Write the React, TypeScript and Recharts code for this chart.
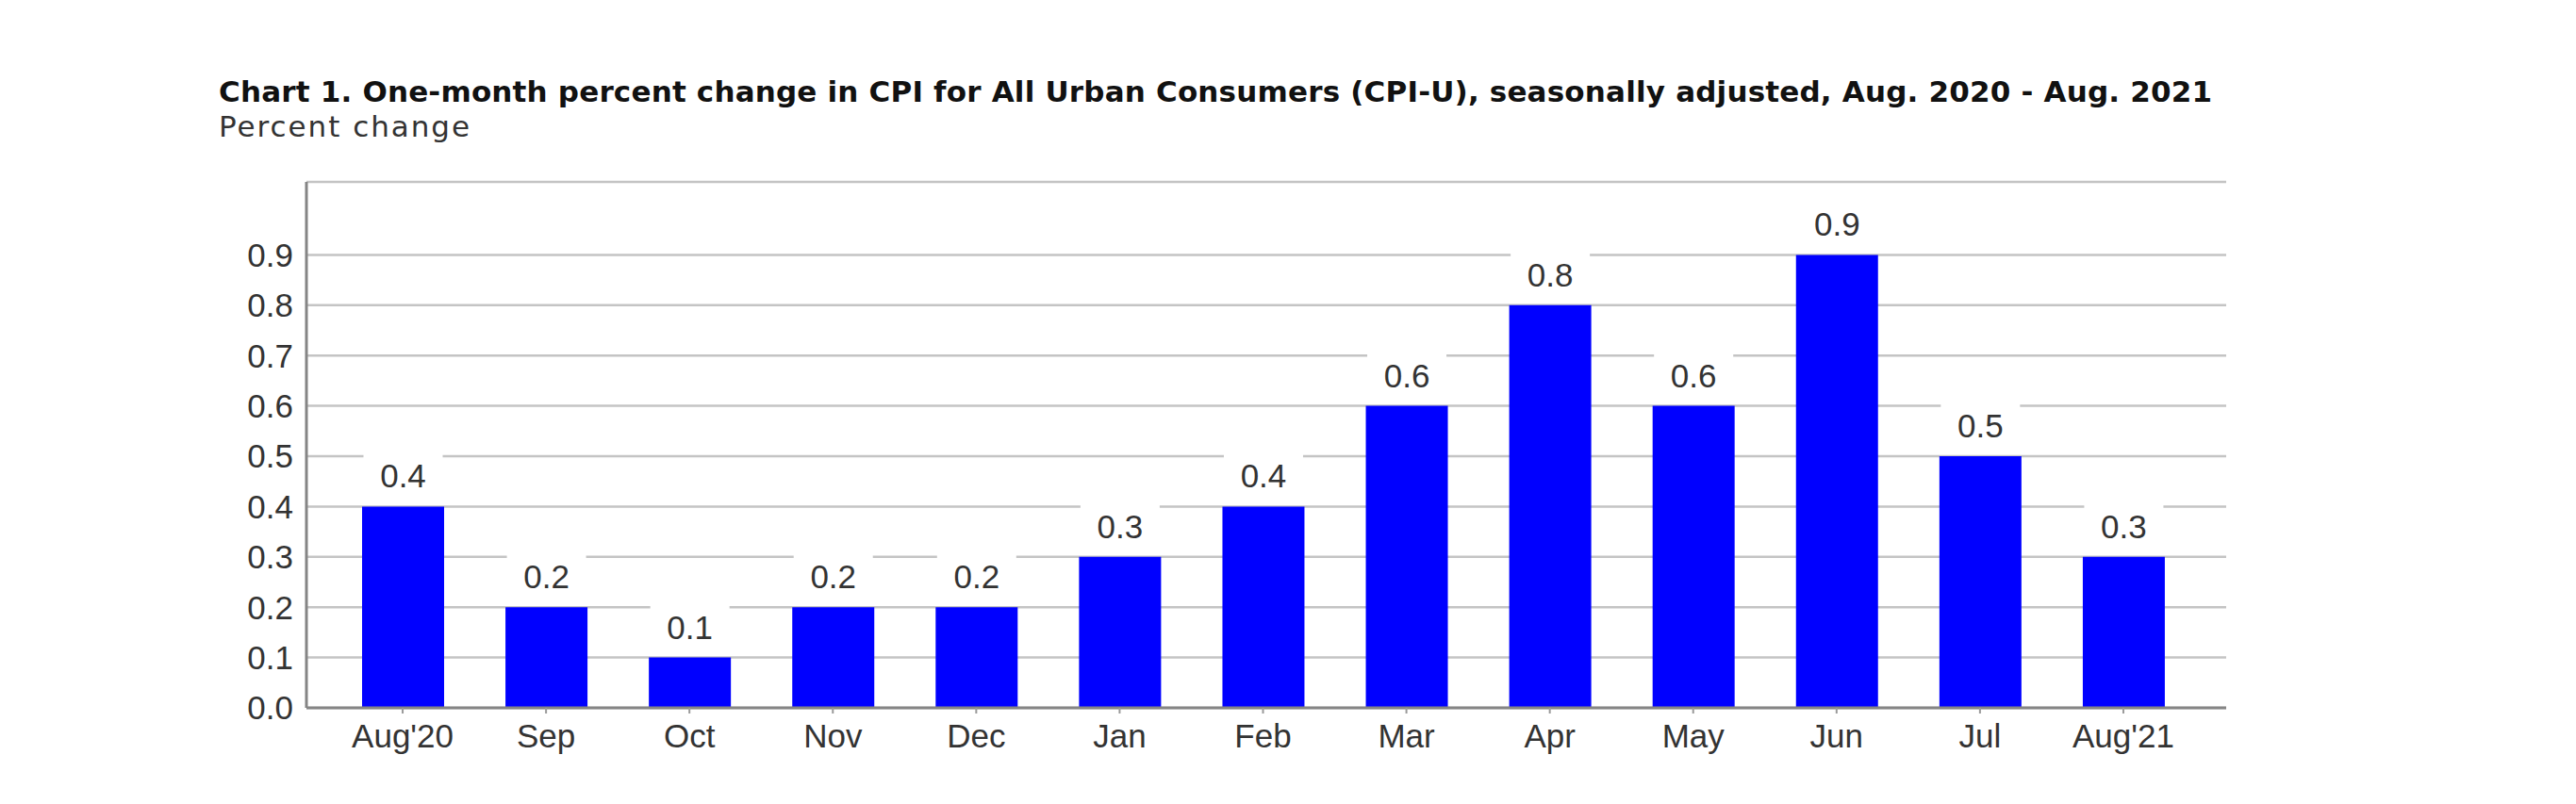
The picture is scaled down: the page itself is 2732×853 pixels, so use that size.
import { BarChart, Bar, XAxis, YAxis, CartesianGrid, LabelList } from 'recharts';

const months = ["Aug'20", 'Sep', 'Oct', 'Nov', 'Dec', 'Jan', 'Feb', 'Mar', 'Apr', 'May', 'Jun', 'Jul', "Aug'21"];
const changes = [0.4, 0.2, 0.1, 0.2, 0.2, 0.3, 0.4, 0.6, 0.8, 0.6, 0.9, 0.5, 0.3];
const yTicks = [0, 0.1, 0.2, 0.3, 0.4, 0.5, 0.6, 0.7, 0.8, 0.9];

const title =
  'Chart 1. One-month percent change in CPI for All Urban Consumers (CPI-U), seasonally adjusted, Aug. 2020 - Aug. 2021';
const subtitle = 'Percent change';

const data = months.map((month, i) => ({ month, value: changes[i] }));

const axisFont = '"Liberation Sans", Arial, sans-serif';
const titleFont = '"DejaVu Sans", sans-serif';
const frame = '#858585';

// value above each bar, on a white box that breaks the gridline behind it
function ValueLabel(props: any) {
  const { x, y, width, value } = props;
  const cx = Number(x) + Number(width) / 2;
  const top = Number(y);
  return (
    <g>
      <rect x={cx - 42} y={top - 58} width={84} height={54} fill="#ffffff" />
      <text
        x={cx}
        y={top - 20}
        textAnchor="middle"
        fontSize={35}
        fontFamily={axisFont}
        fill="#333333"
      >
        {Number(value).toFixed(1)}
      </text>
    </g>
  );
}

export default function App() {
  return (
    <div style={{ position: 'absolute', left: 0, top: 0, width: 2732, height: 853, background: '#fff' }}>
      <style>{`body{margin:0}`}</style>
      <BarChart
        width={2732}
        height={853}
        data={data}
        margin={{ top: 193, right: 371, bottom: 42, left: 0 }}
        barCategoryGap={0}
      >
        <CartesianGrid vertical={false} stroke="#c4c4c4" strokeWidth={2.5} />
        <XAxis
          dataKey="month"
          height={60}
          padding={{ left: 26, right: 33 }}
          axisLine={{ stroke: frame, strokeWidth: 3 }}
          tickLine={{ stroke: '#9a9a9a', strokeWidth: 2 }}
          tickSize={6}
          tickMargin={11}
          interval={0}
          tick={{ fontSize: 35, fontFamily: axisFont, fill: '#333333' }}
        />
        <XAxis
          xAxisId="top"
          dataKey="month"
          orientation="top"
          height={0}
          axisLine={{ stroke: frame, strokeWidth: 3 }}
          tick={false}
          tickLine={false}
        />
        <YAxis
          width={325}
          domain={[0, 1.045]}
          ticks={yTicks}
          interval={0}
          tickFormatter={(v: number) => v.toFixed(1)}
          axisLine={{ stroke: frame, strokeWidth: 3 }}
          tickLine={false}
          tickSize={0}
          tickMargin={14}
          tick={{ fontSize: 35, fontFamily: axisFont, fill: '#333333' }}
        />
        <YAxis
          yAxisId="right"
          orientation="right"
          width={0}
          domain={[0, 1.045]}
          axisLine={{ stroke: frame, strokeWidth: 3 }}
          tick={false}
          tickLine={false}
        />
        <Bar dataKey="value" fill="#0000ff" barSize={87} isAnimationActive={false}>
          <LabelList dataKey="value" content={<ValueLabel />} />
        </Bar>
      </BarChart>
      <svg
        width={2732}
        height={170}
        style={{ position: 'absolute', left: 0, top: 0, pointerEvents: 'none' }}
      >
        <text
          x={232}
          y={108}
          fontSize={31}
          fontWeight={700}
          fontFamily={titleFont}
          fill="#111111"
          textLength={2114}
          lengthAdjust="spacing"
        >
          {title}
        </text>
        <text
          x={232}
          y={145}
          fontSize={31}
          fontFamily={titleFont}
          fill="#333333"
          textLength={266}
          lengthAdjust="spacing"
        >
          {subtitle}
        </text>
      </svg>
    </div>
  );
}
